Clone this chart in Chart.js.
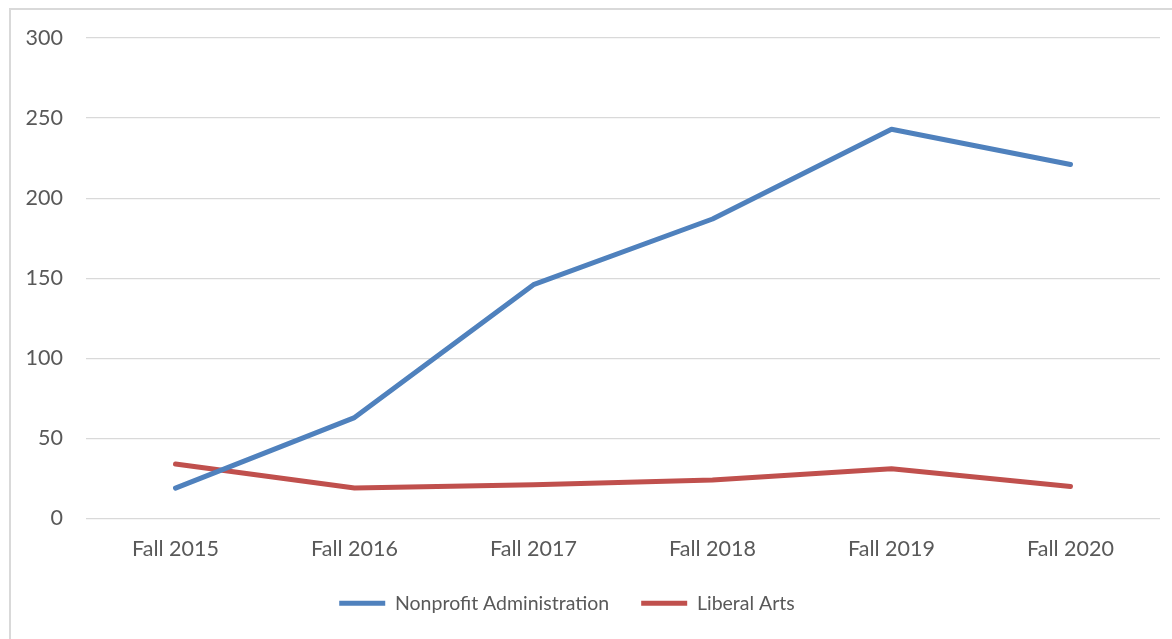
<!DOCTYPE html>
<html>
<head>
<meta charset="utf-8">
<script src="https://cdn.jsdelivr.net/npm/chart.js@4"></script>
<style>
  html, body { margin: 0; padding: 0; background: #ffffff; }
  #wrap { width: 1172px; height: 639px; position: relative; }
</style>
</head>
<body>
<div id="wrap"><canvas id="c" width="1172" height="639"></canvas></div>
<script>
const categories = ["Fall 2015", "Fall 2016", "Fall 2017", "Fall 2018", "Fall 2019", "Fall 2020"];
const nonprofitAdministration = [19, 63, 146, 187, 243, 221];
const liberalArts = [34, 19, 21, 24, 31, 20];
const yTicks = [0, 50, 100, 150, 200, 250, 300];

const textColor = "#595959";
const gridColor = "#d9d9d9";
const fontFamily = "Lato, 'Open Sans', sans-serif";

const frame = {
  id: "frame",
  afterLayout(chart) {
    if (chart.legend) { chart.legend.right -= 26; }
  },
  beforeDraw(chart) {
    const ctx = chart.ctx;
    ctx.save();
    ctx.fillStyle = "#ffffff";
    ctx.fillRect(0, 0, chart.width, chart.height);
    ctx.strokeStyle = gridColor;
    ctx.lineWidth = 2;
    ctx.strokeRect(10, 9, chart.width + 40, chart.height + 40);
    ctx.restore();
  }
};

new Chart(document.getElementById("c"), {
  type: "line",
  data: {
    labels: categories,
    datasets: [
      {
        label: "Nonprofit Administration",
        data: nonprofitAdministration,
        borderColor: "#4f81bd",
        backgroundColor: "#4f81bd",
        borderWidth: 5,
        borderCapStyle: "round",
        borderJoinStyle: "round",
        pointRadius: 0,
        pointStyle: "line",
        tension: 0
      },
      {
        label: "Liberal Arts",
        data: liberalArts,
        borderColor: "#c0504d",
        backgroundColor: "#c0504d",
        borderWidth: 5,
        borderCapStyle: "round",
        borderJoinStyle: "round",
        pointRadius: 0,
        pointStyle: "line",
        tension: 0
      }
    ]
  },
  options: {
    responsive: false,
    animation: false,
    devicePixelRatio: 1,
    layout: { padding: { top: 38, right: 12, left: 0, bottom: 16 } },
    plugins: {
      tooltip: { enabled: false },
      legend: {
        position: "bottom",
        labels: {
          usePointStyle: true,
          pointStyleWidth: 46,
          boxHeight: 20,
          padding: 32,
          color: textColor,
          font: { family: fontFamily, size: 19.5 }
        }
      }
    },
    scales: {
      x: {
        offset: true,
        grid: { display: false, drawTicks: false },
        border: { display: false },
        ticks: { color: textColor, padding: 18, maxRotation: 0, font: { family: fontFamily, size: 21.5 } },
        afterFit(scale) { scale.height = 43; }
      },
      y: {
        min: 0,
        max: 300,
        afterBuildTicks(scale) { scale.ticks = yTicks.map(v => ({ value: v })); },
        grid: { color: gridColor, lineWidth: 1.3, drawTicks: false },
        border: { display: false },
        ticks: { color: textColor, padding: 23, font: { family: fontFamily, size: 21.5 } },
        afterFit(scale) { scale.width = 86; }
      }
    }
  },
  plugins: [frame]
});
</script>
</body>
</html>
